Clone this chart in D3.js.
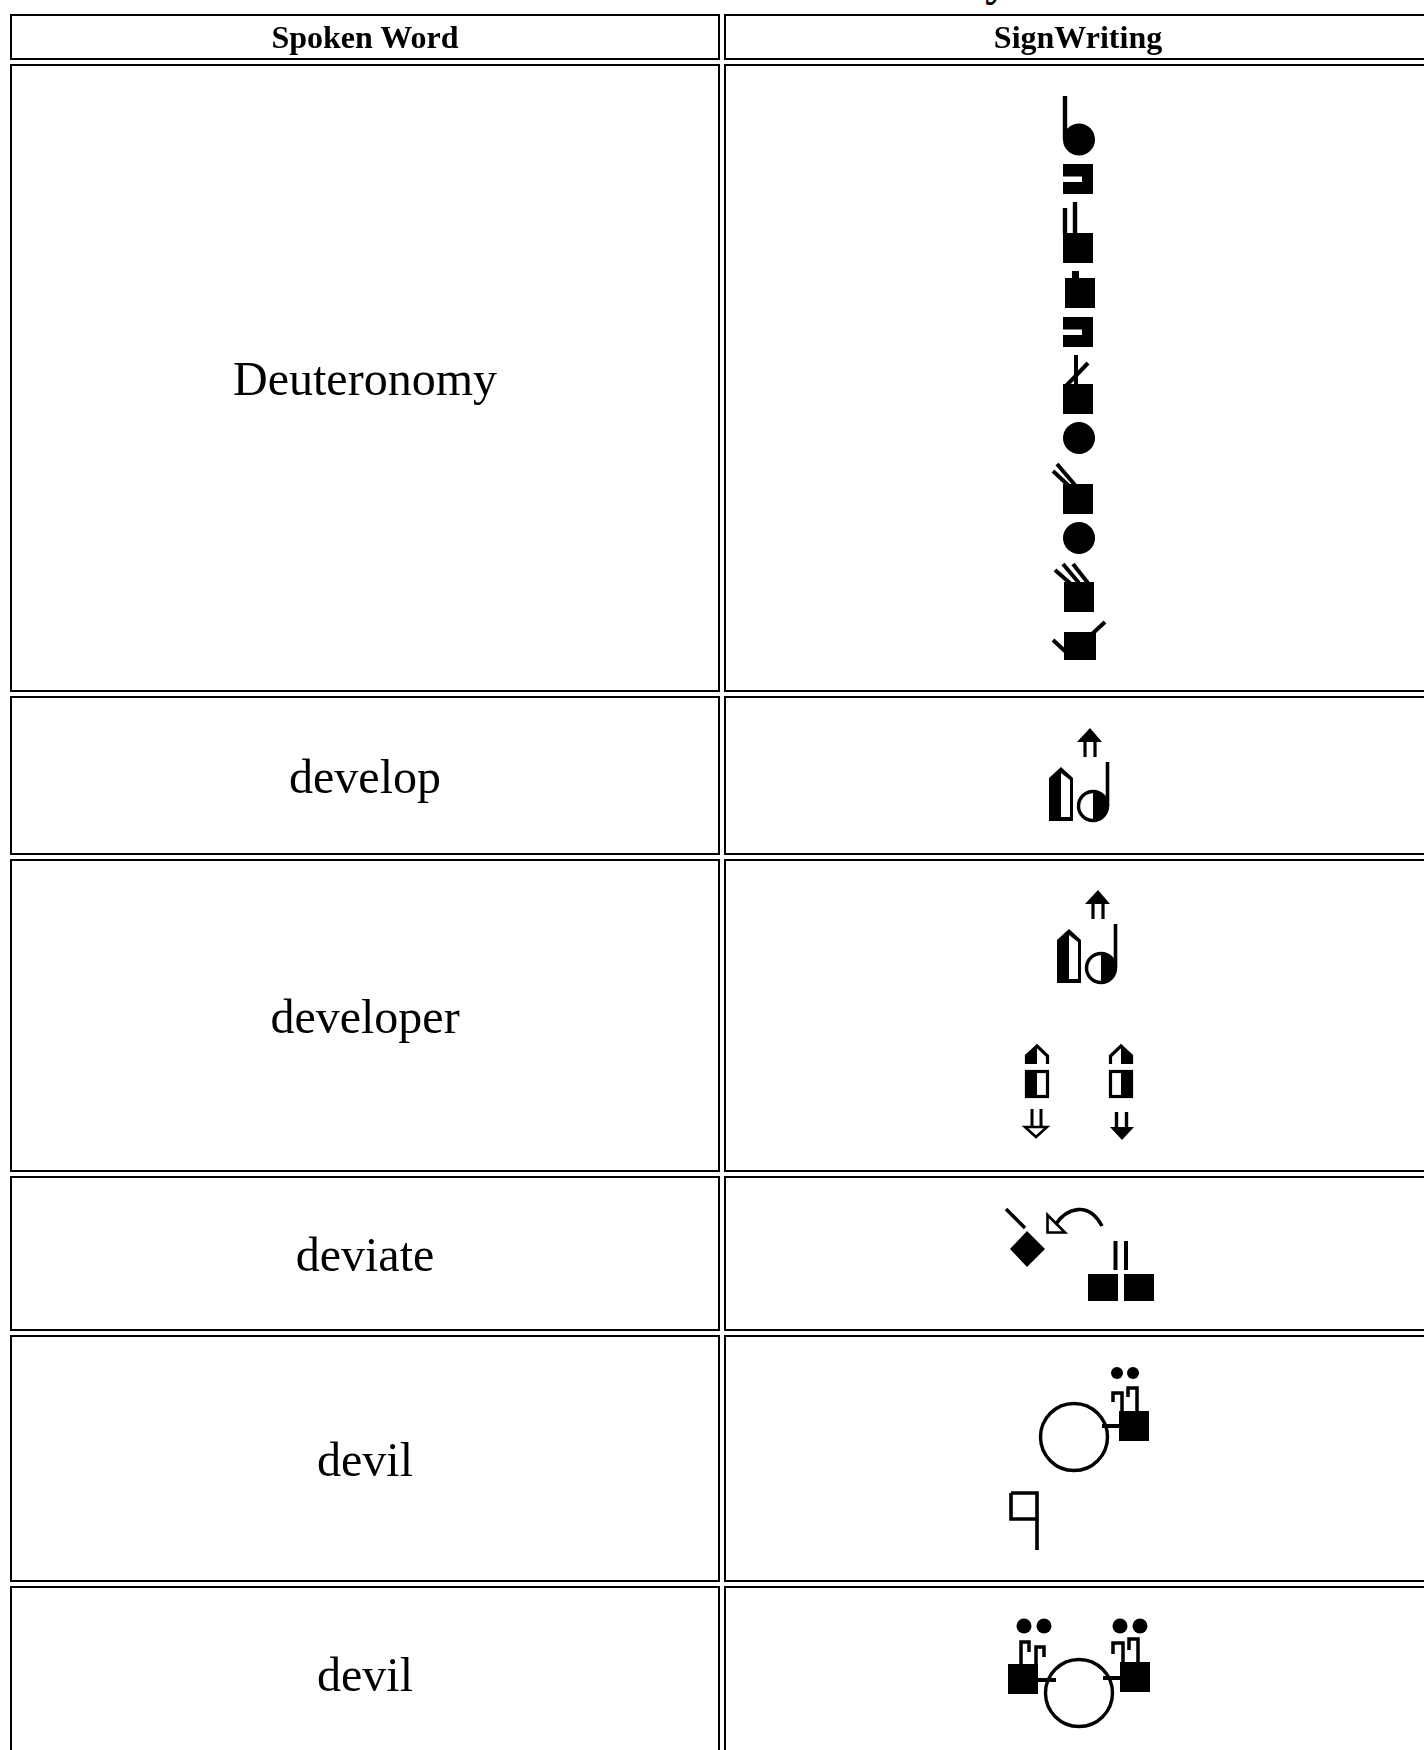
<!DOCTYPE html>
<html>
<head>
<meta charset="utf-8">
<script src="https://cdn.jsdelivr.net/npm/d3@7"></script>
<style>
  html, body { margin: 0; padding: 0; background: #fff; overflow: hidden; }
  text { font-family: "Liberation Serif", serif; fill: #000; }
</style>
</head>
<body>
<div id="page"></div>
<script>
// Table content
const HEADERS = ["Spoken Word", "SignWriting"];
const WORDS = ["Deuteronomy", "develop", "developer", "deviate", "devil", "devil"];
const GLYPHS = ["deuteronomy", "develop", "developer", "deviate", "devilOne", "devilTwo"];
const PAGE_TITLE = "Dictionary";

// Frame + table layout
const FRAME_WIDTH = 1424;
const FRAME_HEIGHT = 1750;
const COL_EDGES = [[10, 720], [724, 1500]];
const HEADER_EDGE = [14, 60];
const ROW_EDGES = [[64, 692], [696, 855], [859, 1172], [1176, 1331], [1335, 1582], [1586, 1762]];

const FRAME = d3.select("#page")
    .append("svg")
    .attr("width", FRAME_WIDTH)
    .attr("height", FRAME_HEIGHT)
    .style("display", "block");

// the reference is a soft scan, small blur gets it closer
const DEFS = FRAME.append("defs");
DEFS.append("filter").attr("id", "soft")
    .append("feGaussianBlur").attr("stdDeviation", 0.5);
DEFS.append("filter").attr("id", "softText")
    .append("feGaussianBlur").attr("stdDeviation", 0.3);

// title is cut off by the top of the page, only the tail of the y shows
FRAME.append("text")
    .attr("x", 1009)
    .attr("y", -5)
    .attr("text-anchor", "end")
    .style("font-size", "48px")
    .style("font-weight", "bold")
    .text(PAGE_TITLE);

// cells
function draw_cell(x0, x1, y0, y1) {
    FRAME.append("rect")
        .attr("x", x0 + 1)
        .attr("y", y0 + 1)
        .attr("width", x1 - x0 - 2)
        .attr("height", y1 - y0 - 2)
        .attr("fill", "none")
        .attr("stroke", "#000")
        .attr("stroke-width", 2);
}

COL_EDGES.forEach((col) => {
    draw_cell(col[0], col[1], HEADER_EDGE[0], HEADER_EDGE[1]);
    ROW_EDGES.forEach((row) => draw_cell(col[0], col[1], row[0], row[1]));
});

const CENTER_WORD = (COL_EDGES[0][0] + COL_EDGES[0][1]) / 2;
const CENTER_SIGN = 1078;

FRAME.selectAll(".head")
    .data(HEADERS)
    .enter().append("text")
    .attr("class", "head")
    .attr("x", (d, i) => i == 0 ? CENTER_WORD : CENTER_SIGN)
    .attr("y", 48)
    .attr("text-anchor", "middle")
    .attr("filter", "url(#softText)")
    .style("font-size", "32px")
    .style("font-weight", "bold")
    .text(d => d);

FRAME.selectAll(".word")
    .data(WORDS)
    .enter().append("text")
    .attr("class", "word")
    .attr("x", CENTER_WORD)
    .attr("y", (d, i) => (ROW_EDGES[i][0] + ROW_EDGES[i][1]) / 2 + 17)
    .attr("text-anchor", "middle")
    .attr("filter", "url(#softText)")
    .style("font-size", "48px")
    .text(d => d);

// SignWriting pieces
const SIGNS = FRAME.append("g").attr("filter", "url(#soft)");
const LINE = d3.line();

function square(x, y, w, h) {
    SIGNS.append("rect").attr("x", x).attr("y", y)
        .attr("width", w || 30).attr("height", h || 30).attr("fill", "#000");
}
function blob(pts) {
    SIGNS.append("path").attr("d", LINE(pts) + "Z").attr("fill", "#000");
}
function hollow(pts, width) {
    SIGNS.append("path").attr("d", LINE(pts) + "Z").attr("fill", "#fff")
        .attr("stroke", "#000").attr("stroke-width", width || 2.5);
}
function white(pts) {
    SIGNS.append("path").attr("d", LINE(pts) + "Z").attr("fill", "#fff");
}
function stroke(pts, width) {
    SIGNS.append("path").attr("d", LINE(pts)).attr("fill", "none")
        .attr("stroke", "#000").attr("stroke-width", width || 4);
}
function dot(x, y, r) {
    SIGNS.append("circle").attr("cx", x).attr("cy", y).attr("r", r).attr("fill", "#000");
}
function ring(x, y, r) {
    SIGNS.append("circle").attr("cx", x).attr("cy", y).attr("r", r)
        .attr("fill", "none").attr("stroke", "#000").attr("stroke-width", 3.4);
}
// square with a notch cut in from the left
function notched(x, y) {
    square(x, y, 30, 30);
    SIGNS.append("rect").attr("x", x).attr("y", y + 12.5)
        .attr("width", 19).attr("height", 5.5).attr("fill", "#fff");
}
// flat hand, side on, plus half circle + stem + up arrow
function flat_hand(x, y) {
    blob([[x, y + 11], [x + 12, y], [x + 24, y + 11], [x + 24, y + 54], [x, y + 54]]);
    white([[x + 12, y + 6], [x + 21, y + 13], [x + 21, y + 50], [x + 12, y + 50]]);
    const cx = x + 44, cy = y + 39;
    ring(cx, cy, 14.5);
    SIGNS.append("path")
        .attr("d", d3.arc()({innerRadius: 0, outerRadius: 15, startAngle: 0, endAngle: Math.PI}))
        .attr("transform", "translate(" + cx + "," + cy + ")")
        .attr("fill", "#000");
    stroke([[cx + 14.5, cy], [cx + 14.5, y - 5]], 3.6);
    // arrow
    blob([[x + 41, y - 39], [x + 53, y - 25], [x + 28, y - 25]]);
    stroke([[x + 36, y - 26], [x + 36, y - 10]], 3.2);
    stroke([[x + 46, y - 26], [x + 46, y - 10]], 3.2);
}
// split hand pointing up, side = which half is filled
function split_hand(x, side) {
    const mid = x + 12, top = 1045;
    const r = x + 24;
    // outline version first
    stroke([[x + 1.5, 1064], [x + 1.5, 1056], [mid, top + 1], [r - 1.5, 1056], [r - 1.5, 1064]], 3.2);
    SIGNS.append("rect").attr("x", x + 1.5).attr("y", 1071.5).attr("width", 21).attr("height", 25)
        .attr("fill", "#fff").attr("stroke", "#000").attr("stroke-width", 3.2);
    if (side == "left") {
        blob([[x, 1064], [x, 1055], [mid, top], [mid, 1064]]);
        square(x, 1070, 12, 28);
    } else {
        blob([[r, 1064], [r, 1055], [mid, top], [mid, 1064]]);
        square(mid, 1070, 12, 28);
    }
}
// two dots, hooks and fist: the devil horns hand
function hook(pts) {
    stroke(pts, 3.5);
}

const DRAW_GLYPH = {
    deuteronomy: () => {
        stroke([[1065, 96], [1065, 140]], 4.4);
        dot(1079, 139.5, 16);
        notched(1063, 164);
        square(1063, 233);
        stroke([[1065, 208], [1065, 234]], 4.4);
        stroke([[1075, 202], [1075, 234]], 4.4);
        square(1065, 278);
        square(1072, 271, 7, 8);
        notched(1063, 317);
        square(1063, 384);
        stroke([[1076, 355], [1076, 385]], 4);
        stroke([[1088, 363], [1066, 386]], 4);
        dot(1079, 438, 16);
        square(1063, 484);
        stroke([[1053, 471], [1069, 486]], 4);
        stroke([[1057, 464], [1075, 485]], 4);
        dot(1079, 538, 16);
        square(1064, 582);
        stroke([[1055, 570], [1071, 584]], 4);
        stroke([[1063, 564], [1079, 583]], 4);
        stroke([[1073, 564], [1088, 583]], 4);
        square(1064, 632, 32, 28);
        stroke([[1092, 634], [1105, 622]], 4);
        stroke([[1053, 640], [1066, 652]], 4);
    },
    develop: () => flat_hand(1049, 767),
    developer: () => {
        flat_hand(1057, 929);
        split_hand(1025, "left");
        split_hand(1109, "right");
        // down arrows
        stroke([[1032, 1109], [1032, 1127]], 3);
        stroke([[1041, 1109], [1041, 1127]], 3);
        hollow([[1025, 1127], [1047, 1127], [1036, 1137]], 2.6);
        stroke([[1116.5, 1112], [1116.5, 1128]], 3.4);
        stroke([[1126.5, 1112], [1126.5, 1128]], 3.4);
        blob([[1110, 1127], [1134, 1127], [1122, 1140]]);
    },
    deviate: () => {
        blob([[1027, 1231], [1045, 1249], [1027, 1267], [1010, 1249]]);
        stroke([[1006, 1209], [1025, 1228]], 3.6);
        hollow([[1047.5, 1215], [1047.5, 1232.5], [1065, 1232.5]], 2.6);
        SIGNS.append("path")
            .attr("d", "M1056,1224C1066,1209 1088,1200 1102,1226")
            .attr("fill", "none").attr("stroke", "#000").attr("stroke-width", 3.6);
        square(1088, 1274, 30, 27);
        square(1124, 1274, 30, 27);
        stroke([[1115.5, 1241], [1115.5, 1270]], 4);
        stroke([[1126, 1241], [1126, 1270]], 4);
    },
    devilOne: () => {
        ring(1074, 1437, 33.5);
        square(1119, 1411);
        stroke([[1102, 1426], [1120, 1426]], 4);
        dot(1117, 1373, 6);
        dot(1133, 1373, 6);
        hook([[1122, 1412], [1122, 1393], [1113, 1393], [1113, 1402]]);
        hook([[1137, 1412], [1137, 1388], [1128, 1388], [1128, 1397]]);
        stroke([[1011, 1493], [1037, 1493], [1037, 1519], [1011, 1519], [1011, 1493]], 3.6);
        stroke([[1037, 1519], [1037, 1550]], 3.6);
    },
    devilTwo: () => {
        ring(1079, 1693, 33.5);
        square(1008, 1664);
        stroke([[1038, 1680], [1056, 1680]], 4);
        dot(1024, 1626, 7.5);
        dot(1044, 1626, 7.5);
        hook([[1021, 1665], [1021, 1642], [1029, 1642], [1029, 1652]]);
        hook([[1036, 1665], [1036, 1647], [1044, 1647], [1044, 1657]]);
        square(1120, 1662);
        stroke([[1103, 1678], [1121, 1678]], 4);
        dot(1120, 1626, 7.5);
        dot(1140, 1626, 7.5);
        hook([[1123, 1663], [1123, 1643], [1113, 1643], [1113, 1654]]);
        hook([[1138, 1663], [1138, 1639], [1129, 1639], [1129, 1650]]);
    }
};

GLYPHS.forEach((name) => DRAW_GLYPH[name]());
</script>
</body>
</html>
